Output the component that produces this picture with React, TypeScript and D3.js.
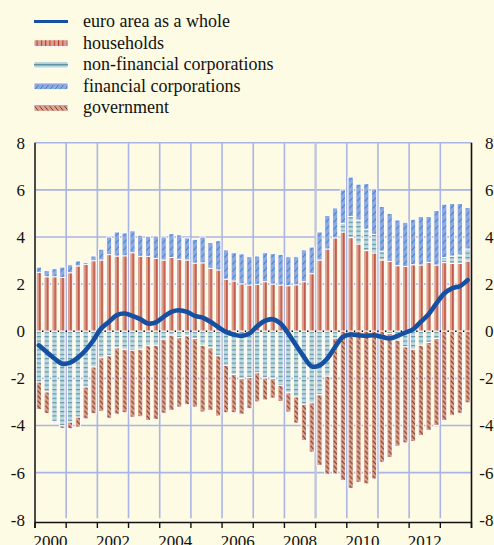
import React from "react";
import * as d3 from "d3";

// Quarterly data 2000Q1 .. 2013Q4 (% of GDP)
const households = [2.5,2.31,2.31,2.28,2.48,2.77,2.84,2.99,3.02,3.25,3.19,3.2,3.33,3.18,3.18,3.09,3.02,3.13,3.05,3.02,2.89,2.9,2.67,2.6,2.21,2.13,2.01,1.96,1.99,2.1,2.0,1.96,1.93,1.97,2.1,2.44,3.02,3.49,3.96,4.21,3.97,3.7,3.42,3.32,3.02,2.96,2.78,2.75,2.82,2.81,2.92,2.81,2.91,2.88,2.88,2.98];
const nonFinancial = [-2.16,-2.58,-3.83,-4.02,-3.86,-3.65,-2.37,-1.52,-1.13,-1.05,-0.71,-0.77,-0.81,-0.77,-0.62,-0.6,-0.34,-0.17,-0.28,-0.2,-0.31,-0.6,-0.71,-1.05,-1.45,-1.84,-2.01,-1.97,-1.77,-1.99,-2.01,-2.3,-2.62,-2.79,-3.1,-3.04,-2.7,-1.91,-0.3,0.37,0.9,1.02,0.91,0.79,0.38,-0.1,-0.38,-0.67,-0.77,-0.6,-0.48,-0.31,0.22,0.31,0.35,0.51];
const financial = [0.22,0.26,0.34,0.44,0.34,0.21,0.07,0.2,0.46,0.75,1.02,0.97,0.93,0.89,0.85,0.95,0.98,1.01,1.04,0.94,1.01,1.1,1.09,1.24,1.24,1.2,1.27,1.2,1.2,1.23,1.29,1.3,1.23,1.19,1.35,1.13,1.19,1.42,1.27,1.42,1.67,1.52,1.93,1.93,1.89,2.04,1.94,1.87,1.93,2.06,1.95,2.31,2.26,2.23,2.19,1.76];
const government = [-1.16,-0.92,-0.05,-0.1,-0.28,-0.42,-1.35,-1.98,-2.27,-2.64,-2.81,-2.69,-2.84,-2.86,-3.17,-3.14,-3.14,-3.19,-2.94,-2.92,-2.91,-2.83,-2.65,-2.55,-2.01,-1.62,-1.51,-1.32,-1.23,-0.93,-0.83,-0.68,-0.81,-1.11,-1.54,-2.09,-3.0,-4.16,-5.76,-6.34,-6.67,-6.41,-6.48,-6.27,-5.56,-5.25,-4.5,-4.07,-3.91,-3.83,-3.73,-3.69,-3.79,-3.57,-3.48,-3.04];
const euroArea = [-0.6,-0.88,-1.16,-1.38,-1.33,-1.12,-0.81,-0.38,0.12,0.4,0.68,0.75,0.65,0.51,0.33,0.37,0.61,0.82,0.89,0.82,0.65,0.58,0.4,0.18,-0.03,-0.14,-0.2,-0.1,0.21,0.44,0.51,0.33,-0.1,-0.6,-1.09,-1.49,-1.45,-1.16,-0.67,-0.24,-0.14,-0.17,-0.2,-0.17,-0.24,-0.31,-0.2,-0.06,0.08,0.4,0.72,1.18,1.6,1.82,1.91,2.17];

const yTicks = [-8, -6, -4, -2, 0, 2, 4, 6, 8];
const yearLabels = [2000, 2002, 2004, 2006, 2008, 2010, 2012];
const legendItems = ["euro area as a whole", "households", "non-financial corporations", "financial corporations", "government"];

const W = 494, H = 545;
const BG = "#FDFBE4";
const GRID = "#AAB5E6";
const FONT = "'Liberation Serif', 'Times New Roman', serif";

export default function App() {
  const x = d3.scaleLinear().domain([2000, 2014]).range([35, 471.5]);
  const y = d3.scaleLinear().domain([-8, 8]).range([519.7, 142.7]);
  const step = x(2000.25) - x(2000);
  const x0 = x(2000);

  const rows = households.map((h, i) => ({
    t: 2000 + i * 0.25,
    households: h,
    nfc: nonFinancial[i],
    financial: financial[i],
    government: government[i],
  }));
  const keys = ["households", "nfc", "financial", "government"];
  const series = d3.stack<any>().keys(keys).offset(d3.stackOffsetDiverging)(rows);
  const fills: Record<string, string> = {
    households: "url(#pHH)",
    nfc: "url(#pNFC)",
    financial: "url(#pFIN)",
    government: "url(#pGOV)",
  };
  const barW = 5.3;

  const line = d3
    .line<number>()
    .x((_, i) => x(2000 + i * 0.25 + 0.125))
    .y((d) => y(d))
    .curve(d3.curveCatmullRom.alpha(0.5));

  const years = d3.range(2000, 2015);
  const cx = step / 2 + 0.3;

  return (
    <svg width={W} height={H} style={{ position: "absolute", left: 0, top: 0, display: "block", fontFamily: FONT }}>
      <defs>
        <pattern id="pHH" patternUnits="userSpaceOnUse" x={x0} y={0} width={step} height={10}>
          <rect width={step} height={10} fill="#DCA08D" />
          <rect x={cx} y={0} width={1.1} height={10} fill="#B5372A" />
        </pattern>
        <pattern id="pNFC" patternUnits="userSpaceOnUse" x={x0} y={0} width={step} height={4.4}>
          <rect width={step} height={4.4} fill="#BDD7DF" />
          <rect x={0} y={1.8} width={step} height={1.1} fill="#5D93A3" />
        </pattern>
        <pattern id="pFIN" patternUnits="userSpaceOnUse" x={x0} y={0} width={step} height={7}>
          <rect width={step} height={7} fill="#92A9DE" />
          <line x1={cx - 1.6} y1={5.5} x2={cx + 1.6} y2={1.5} stroke="#2C84D8" strokeWidth={1} />
        </pattern>
        <pattern id="pGOV" patternUnits="userSpaceOnUse" x={x0} y={0} width={step} height={5}>
          <rect width={step} height={5} fill="#DDA08B" />
          <line x1={cx - 1.5} y1={0.6} x2={cx + 1.5} y2={4.4} stroke="#7A4434" strokeWidth={1.1} />
        </pattern>
        <pattern id="lHH" patternUnits="userSpaceOnUse" x={34} y={0} width={4.3} height={10}>
          <rect width={4.3} height={10} fill="#DCA08D" />
          <rect x={2.6} width={1} height={10} fill="#B5372A" />
        </pattern>
        <pattern id="lFIN" patternUnits="userSpaceOnUse" x={34} y={0} width={5} height={7}>
          <rect width={5} height={7} fill="#92A9DE" />
          <line x1={0.5} y1={6} x2={4.5} y2={1} stroke="#2C84D8" strokeWidth={1} />
        </pattern>
        <pattern id="lGOV" patternUnits="userSpaceOnUse" x={34} y={0} width={5} height={7}>
          <rect width={5} height={7} fill="#DDA08B" />
          <line x1={0.5} y1={1} x2={4.5} y2={6} stroke="#7A4434" strokeWidth={1} />
        </pattern>
      </defs>

      <rect x={0} y={0} width={W} height={H} fill={BG} />

      {/* grid */}
      {yTicks.filter((v) => v !== 0 && v !== -8).map((v) => (
        <line key={"gy" + v} x1={x(2000)} x2={x(2014)} y1={y(v)} y2={y(v)} stroke={GRID} strokeWidth={1.6} />
      ))}
      {years.slice(1, -1).map((yr) => (
        <line key={"gx" + yr} x1={x(yr)} x2={x(yr)} y1={y(8)} y2={y(-8) - 1.5}
          stroke={yr === 2009 ? "#BFC5DD" : GRID} strokeWidth={yr === 2009 ? 2.4 : 1.6} />
      ))}
      <line x1={x(2000)} x2={x(2014)} y1={y(0)} y2={y(0)} stroke="#000" strokeWidth={1.6} />

      {/* bars */}
      {series.map((s) => (
        <g key={s.key} fill={fills[s.key]}>
          {s.map((d, i) => {
            const top = y(Math.max(d[0], d[1]));
            const bot = y(Math.min(d[0], d[1]));
            if (bot - top < 0.01) return null;
            return (
              <rect key={i} x={x(rows[i].t + 0.125) - barW / 2} y={top} width={barW} height={bot - top}
                stroke="#FFFFFF" strokeWidth={0.9} />
            );
          })}
        </g>
      ))}

      {/* line */}
      <path d={line(euroArea) || ""} fill="none" stroke="#1550A2" strokeWidth={4.6} strokeLinejoin="round" strokeLinecap="round" />

      {/* axes */}
      <line x1={x(2000)} x2={x(2000)} y1={y(8)} y2={528} stroke="#4A4A4A" strokeWidth={2} />
      <line x1={x(2014)} x2={x(2014)} y1={y(8)} y2={528} stroke="#111" strokeWidth={1.6} />
      <line x1={x(2000)} x2={x(2014)} y1={522.5} y2={522.5} stroke="#111" strokeWidth={1.4} />
      {years.map((yr) => (
        <line key={"t" + yr} x1={x(yr)} x2={x(yr)} y1={522.5} y2={528} stroke="#111" strokeWidth={1.4} />
      ))}

      {yTicks.map((v) => (
        <g key={"yl" + v} fontSize={17} fill="#111" fontFamily={FONT}>
          <text x={25} y={y(v) + 6} textAnchor="end">{String(v)}</text>
          <text x={493.5} y={y(v) + 6} textAnchor="end">{String(v)}</text>
        </g>
      ))}
      {yearLabels.map((yr) => (
        <text key={"xl" + yr} x={x(yr + 0.5)} y={546.5} textAnchor="middle" fontSize={17} fill="#111" fontFamily={FONT}>{yr}</text>
      ))}

      {/* legend */}
      {legendItems.map((name, i) => {
        const cy = 21.5 + i * 21.6;
        let sym;
        if (i === 0) sym = <line x1={34} x2={68} y1={cy} y2={cy} stroke="#1550A2" strokeWidth={3.2} />;
        else if (i === 1) sym = <rect x={34} y={cy - 3.3} width={34} height={6.6} fill="url(#lHH)" stroke="#fff" strokeWidth={0.8} />;
        else if (i === 2)
          sym = (
            <g>
              <rect x={34} y={cy - 3.3} width={34} height={6.6} fill="#BDD7DF" stroke="#fff" strokeWidth={0.8} />
              <rect x={34} y={cy - 0.8} width={34} height={1.6} fill="#5D93A3" />
            </g>
          );
        else if (i === 3) sym = <rect x={34} y={cy - 3.3} width={34} height={6.6} fill="url(#lFIN)" stroke="#fff" strokeWidth={0.8} />;
        else sym = <rect x={34} y={cy - 3.3} width={34} height={6.6} fill="url(#lGOV)" stroke="#fff" strokeWidth={0.8} />;
        return (
          <g key={name}>
            {sym}
            <text x={83} y={cy + 5.5} fontSize={18} fill="#111" fontFamily={FONT}>{name}</text>
          </g>
        );
      })}
    </svg>
  );
}
